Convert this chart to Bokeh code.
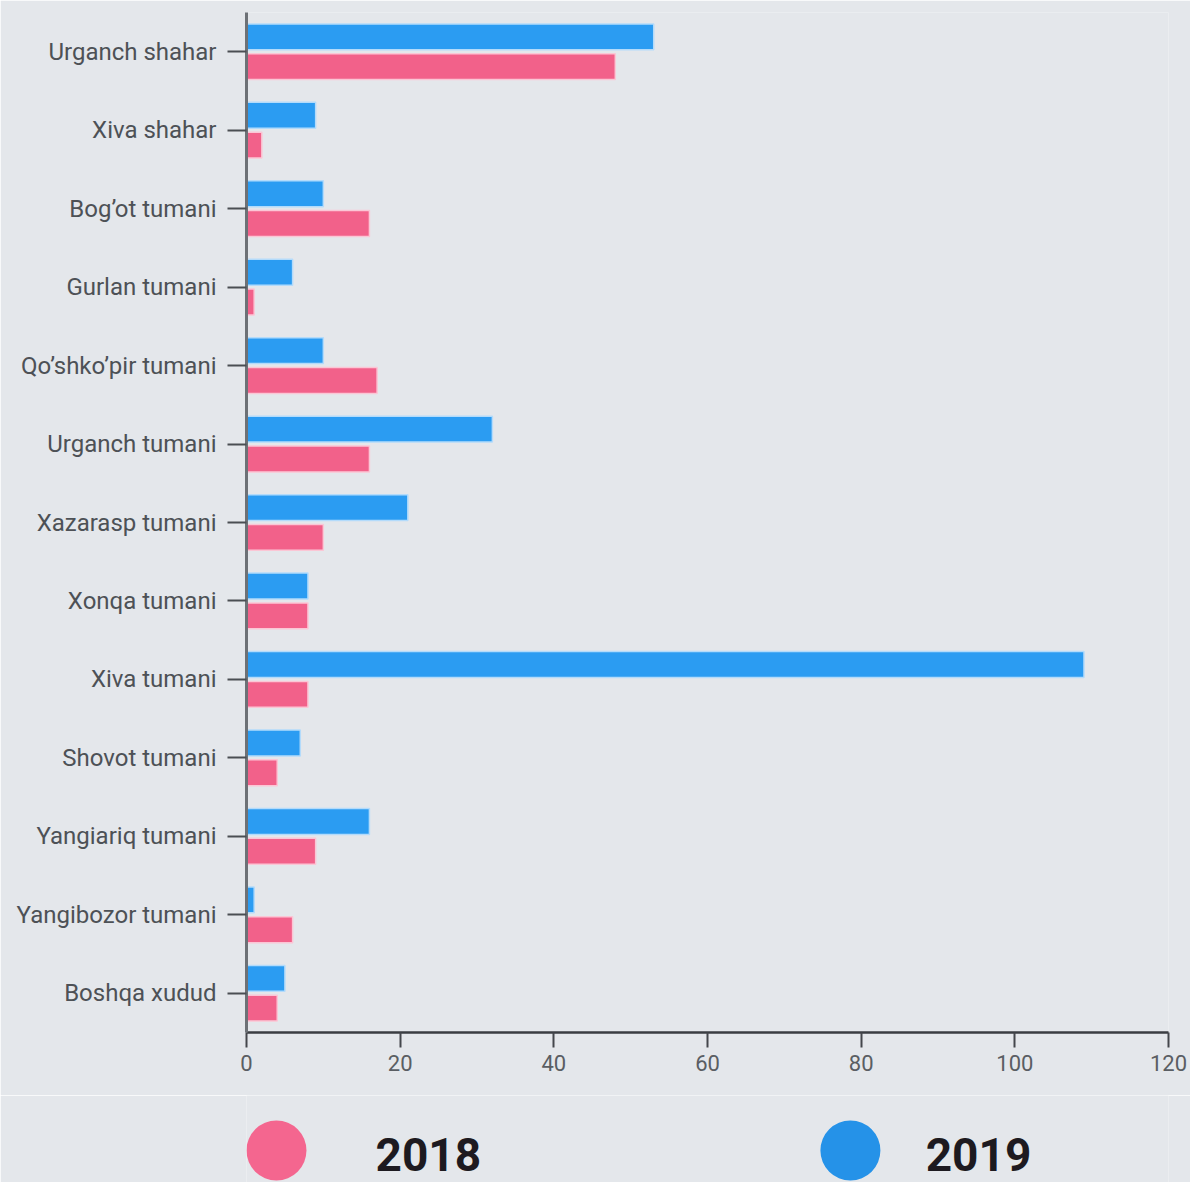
from bokeh.plotting import figure
from bokeh.models import FactorRange, Range1d, ColumnDataSource, FixedTicker
from bokeh.transform import dodge
from bokeh.layouts import column
from bokeh.embed import file_html
from bokeh.resources import INLINE
from bokeh.core.properties import value

# ---- data ----
districts = ["Urganch shahar", "Xiva shahar", "Bog\u2019ot tumani", "Gurlan tumani",
             "Qo\u2019shko\u2019pir tumani", "Urganch tumani", "Xazarasp tumani",
             "Xonqa tumani", "Xiva tumani", "Shovot tumani", "Yangiariq tumani",
             "Yangibozor tumani", "Boshqa xudud"]
values_2018 = [48, 2, 16, 1, 17, 16, 10, 8, 8, 4, 9, 6, 4]
values_2019 = [53, 9, 10, 6, 10, 32, 21, 8, 109, 7, 16, 1, 5]
x_ticks = [0, 20, 40, 60, 80, 100, 120]
series_names = ["2018", "2019"]

# ---- style ----
BG = "#e4e7eb"
PINK = "#f2618a"
BLUE = "#2b9cf2"
FONT = "Roboto"

src = ColumnDataSource(dict(district=districts, y2018=values_2018, y2019=values_2019))

p = figure(width=1190, height=1095,
           y_range=FactorRange(*districts[::-1]), x_range=Range1d(0, 120),
           output_backend="svg", toolbar_location=None,
           min_border_left=246, min_border_top=12, min_border_bottom=63, min_border_right=22,
           background_fill_color=BG, border_fill_color=BG)
p.outline_line_color = None
p.xgrid.visible = False
p.ygrid.visible = False

p.hbar(y=dodge("district", 0.19, range=p.y_range), left=0, right="y2019", height=0.33,
       source=src, fill_color=BLUE, line_color="#b3dbfb", line_width=1.5)
p.hbar(y=dodge("district", -0.19, range=p.y_range), left=0, right="y2018", height=0.33,
       source=src, fill_color=PINK, line_color="#fbc6d5", line_width=1.5)

xa = p.xaxis[0]
xa.ticker = FixedTicker(ticks=x_ticks)
xa.axis_line_color = "#3a3d42"
xa.axis_line_width = 2.5
xa.major_tick_line_color = "#44474c"
xa.major_tick_line_width = 2
xa.major_tick_out = 15
xa.major_tick_in = 0
xa.minor_tick_out = 0
xa.minor_tick_in = 0
xa.major_label_text_font = FONT
xa.major_label_text_font_size = "22px"
xa.major_label_text_color = "#5a5e63"
xa.major_label_standoff = 7

ya = p.yaxis[0]
ya.axis_line_color = "#6d7176"
ya.axis_line_width = 3
ya.major_tick_line_color = "#4a4e53"
ya.major_tick_line_width = 2
ya.major_tick_out = 19
ya.major_tick_in = 0
ya.major_label_text_font = FONT
ya.major_label_text_font_size = "24px"
ya.major_label_text_color = "#4d5156"
ya.major_label_standoff = 11

# ---- legend figure (frame aligned with the chart's frame, same x units) ----
lg = figure(width=1190, height=87, x_range=Range1d(0, 120), y_range=Range1d(0, 87),
            output_backend="svg", toolbar_location=None,
            min_border=0, min_border_left=246, min_border_right=22,
            background_fill_color=BG, border_fill_color=BG)
lg.outline_line_color = None
lg.axis.visible = False
lg.grid.visible = False
legend_src = ColumnDataSource(dict(cx=[3.9, 78.6], cy=[32, 32], tx=[16.8, 88.4], ty=[28, 28],
                                   label=series_names, color=["#f4668f", "#2592e8"]))
lg.scatter(x="cx", y="cy", size=60, marker="circle", fill_color="color", line_color=None,
           source=legend_src)
lg.text(x="tx", y="ty", text="label", source=legend_src, text_font=value(FONT),
        text_font_style="bold", text_font_size="46px", text_color="#1d1a20",
        text_baseline="middle", text_align="left")

layout = column(p, lg, spacing=0)
open("out.html", "w").write(file_html(layout, INLINE))
